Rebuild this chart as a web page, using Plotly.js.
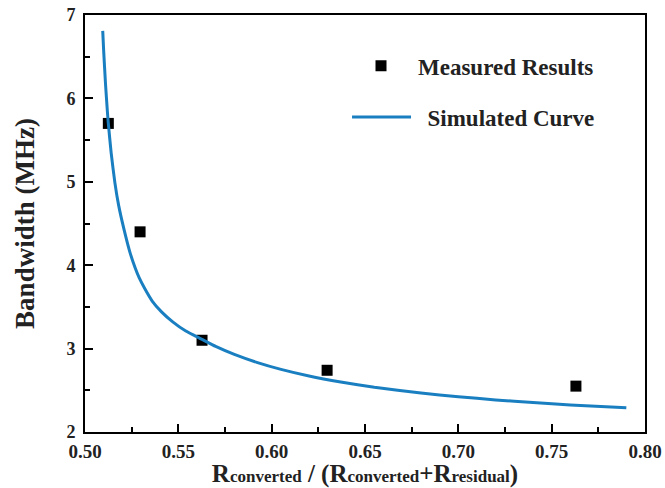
<!DOCTYPE html>
<html>
<head>
<meta charset="utf-8">
<script src="https://cdn.plot.ly/plotly-3.0.1.min.js"></script>
<style>html,body{margin:0;padding:0;background:#fff;}#chart{width:665px;height:488px;}</style>
</head>
<body>
<div id="chart"></div>
<script>
// Measured results
const measuredX = [0.5125, 0.5295, 0.5627, 0.6297, 0.7630];
const measuredY = [5.70, 4.40, 3.10, 2.74, 2.55];
// Simulated curve
const curveX = [0.5095, 0.510, 0.511, 0.512, 0.5125, 0.514, 0.516, 0.518, 0.521, 0.524, 0.527, 0.529, 0.532, 0.536, 0.541, 0.547, 0.554, 0.5627, 0.570, 0.580, 0.592, 0.605, 0.620, 0.637, 0.655, 0.680, 0.700, 0.720, 0.740, 0.760, 0.790];
const curveY = [6.81, 6.57, 6.17, 5.84, 5.70, 5.35, 4.99, 4.72, 4.42, 4.16, 3.96, 3.85, 3.72, 3.57, 3.44, 3.32, 3.21, 3.11, 3.026, 2.930, 2.835, 2.751, 2.672, 2.600, 2.537, 2.467, 2.423, 2.385, 2.353, 2.325, 2.290];
const xTicks = [0.50, 0.55, 0.60, 0.65, 0.70, 0.75, 0.80];
const yTicks = [2, 3, 4, 5, 6, 7];

const F = "'Liberation Serif', 'Times New Roman', serif";
const traces = [
  {x: measuredX, y: measuredY, type: 'scatter', mode: 'markers', name: '<b>Measured Results</b>',
   marker: {symbol: 'square', size: 11, color: '#000'}, legend: 'legend', cliponaxis: false},
  {x: curveX, y: curveY, type: 'scatter', mode: 'lines', name: '<b>\u00a0\u00a0Simulated Curve</b>',
   line: {color: '#1a7fc1', width: 3, shape: 'spline', smoothing: 0.5}, legend: 'legend2'}
];
const axisCommon = {
  showgrid: false, zeroline: false, showline: true, linecolor: '#000', linewidth: 2,
  mirror: true, ticks: 'inside', ticklen: 8, tickwidth: 2, tickcolor: '#000'
};
const layout = {
  width: 665, height: 488,
  margin: {l: 85, r: 20, t: 15, b: 56},
  paper_bgcolor: '#fff', plot_bgcolor: '#fff',
  font: {family: F, color: '#222'},
  xaxis: Object.assign({}, axisCommon, {
    range: [0.5, 0.8], tickvals: xTicks, ticktext: xTicks.map(v => v.toFixed(2)),
    tickfont: {family: F, size: 19, color: '#222', weight: 'bold'}, ticklabelstandoff: 1,
    minor: {dtick: 0.025, tick0: 0.5, ticks: 'inside', ticklen: 5, tickwidth: 2, tickcolor: '#000'},
    title: {text: '<b>R<span style="font-size:17px">converted</span> / (R<span style="font-size:17px">converted</span>+R<span style="font-size:17px">residual</span>)</b>',
            font: {family: F, size: 25, color: '#222'}, standoff: 4}
  }),
  yaxis: Object.assign({}, axisCommon, {
    range: [2, 7], tickvals: yTicks, ticktext: yTicks.map(String), ticklabelstandoff: 4,
    tickfont: {family: F, size: 18, color: '#222', weight: 'bold'},
    minor: {dtick: 0.5, tick0: 2, ticks: 'inside', ticklen: 5, tickwidth: 2, tickcolor: '#000'},
    title: {text: '<b>Bandwidth (MHz)</b>', font: {family: F, size: 27, color: '#222'}, standoff: 24}
  }),
  legend: {x: 0.4625, y: 0.878, xanchor: 'left', yanchor: 'middle', bgcolor: 'rgba(0,0,0,0)',
           font: {family: F, size: 23, color: '#222'}, itemwidth: 64},
  legend2: {x: 0.4679, y: 0.755, xanchor: 'left', yanchor: 'middle', bgcolor: 'rgba(0,0,0,0)',
           font: {family: F, size: 23, color: '#222'}, itemwidth: 59},
  showlegend: true
};
Plotly.newPlot('chart', traces, layout, {staticPlot: true, displayModeBar: false});
</script>
</body>
</html>
